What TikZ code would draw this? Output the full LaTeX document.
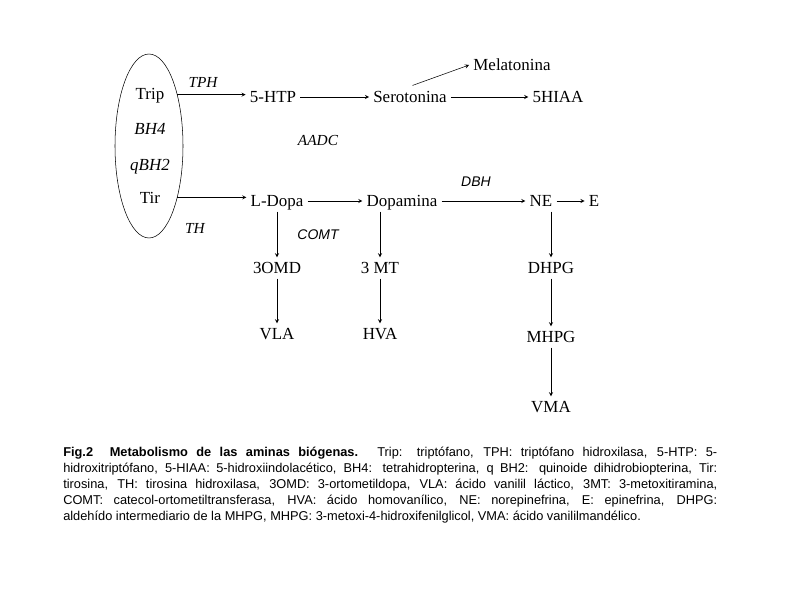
\documentclass[tikz,border=0pt]{standalone}
\usepackage{fontspec}
\setmainfont{Liberation Serif}
\setsansfont{Liberation Sans}
\usetikzlibrary{shapes.geometric}

\begin{document}
\begin{tikzpicture}
[->,>=stealth,thin,%
  x=0.75pt,y=-0.75pt,%
  mol/.style={inner xsep=3pt,inner ysep=3.5pt,text height=8.6pt,text depth=0pt,%
    font=\fontsize{12.7}{14}\selectfont},%
  enz/.style={font=\itshape\fontsize{11.5}{13}\selectfont},%
  enzsf/.style={font=\sffamily\itshape\fontsize{10.5}{12}\selectfont}]
\useasboundingbox (0,0) rectangle (800,600);
%% cofactors
\node[draw,ellipse,minimum width=51pt,minimum height=138pt,inner sep=0pt] (ell) at (149,146) {};
\node[mol] (Trip) at (150,94) {Trip};
\node[mol,font=\itshape\fontsize{12.7}{14}\selectfont] (BH4) at (150,129) {BH4};
\node[mol,font=\itshape\fontsize{12.7}{14}\selectfont] (qBH2) at (150,165) {qBH2};
\node[mol] (Tir) at (150,198) {Tir};
%% serotonin branch
\node[mol] (HTP) at (273,97) {5-HTP};
\node[mol] (Sero) at (410,97) {Serotonina};
\node[mol] (Mel) at (512,65) {Melatonina};
\node[mol] (HIAA) at (558,97) {5HIAA};
%% catecholamine branch
\node[mol] (LDopa) at (277,201) {L-Dopa};
\node[mol] (Dopa) at (402,201) {Dopamina};
\node[mol] (NE) at (541,201) {NE};
\node[mol] (E) at (594,201) {E};
\node[mol] (OMD) at (277,268) {3OMD};
\node[mol] (MT) at (380,268) {3 MT};
\node[mol] (DHPG) at (551,268) {DHPG};
\node[mol] (VLA) at (277,334) {VLA};
\node[mol] (HVA) at (380,334) {HVA};
\node[mol] (MHPG) at (551,337) {MHPG};
\node[mol] (VMA) at (551,407) {VMA};
%% enzymes
\node[enz] (TPH) at (203,82) {TPH};
\node[enz] (AADC) at (318,140) {AADC};
\node[enz] (TH) at (195,228) {TH};
\node[enzsf] (COMT) at (318,235) {COMT};
\node[enzsf] (DBH) at (476,182) {DBH};
%%
\draw (ell.61) -- (ell.61 -| HTP.west);
\draw (ell.-61) -- (ell.-61 -| LDopa.west);
\draw[shorten <=2pt] (Sero.north) -- (Mel.west);
\draw (MT.north |- Dopa.south) -- (MT.north);
\draw (DHPG.north |- NE.south) -- (DHPG.north);
\path
\foreach \startNode/\endNode in {HTP/Sero, Sero/HIAA, LDopa/Dopa, Dopa/NE, NE/E,
  LDopa/OMD, OMD/VLA, MT/HVA, DHPG/MHPG, MHPG/VMA}
{
  (\startNode) edge[->,>=stealth,thin] (\endNode)
};
%% caption
\node[anchor=north west,inner sep=0pt,text width=490.5pt,align=justify,%
  font=\sffamily\fontsize{9.6}{12}\selectfont] (cap) at (63,447)
{\hyphenpenalty=10000\tolerance=10000\pretolerance=-1%
\textbf{Fig.2\hspace{1.3em}Metabolismo de las aminas biógenas.} Trip: triptófano, TPH: triptófano hidroxilasa, 5-HTP: 5-\linebreak
hidroxitriptófano, 5-HIAA: 5-hidroxiindolacético, BH4: tetrahidropterina, q BH2: quinoide dihidrobiopterina, Tir:\linebreak
tirosina, TH: tirosina hidroxilasa, 3OMD: 3-ortometildopa, VLA: ácido vanilil láctico, 3MT: 3-metoxitiramina,\linebreak
COMT: catecol-ortometiltransferasa, HVA: ácido homovanílico, NE: norepinefrina, E: epinefrina, DHPG:\linebreak
aldehído intermediario de la MHPG, MHPG: 3-metoxi-4-hidroxifenilglicol, VMA: ácido vanililmandélico.};
\end{tikzpicture}
\end{document}
